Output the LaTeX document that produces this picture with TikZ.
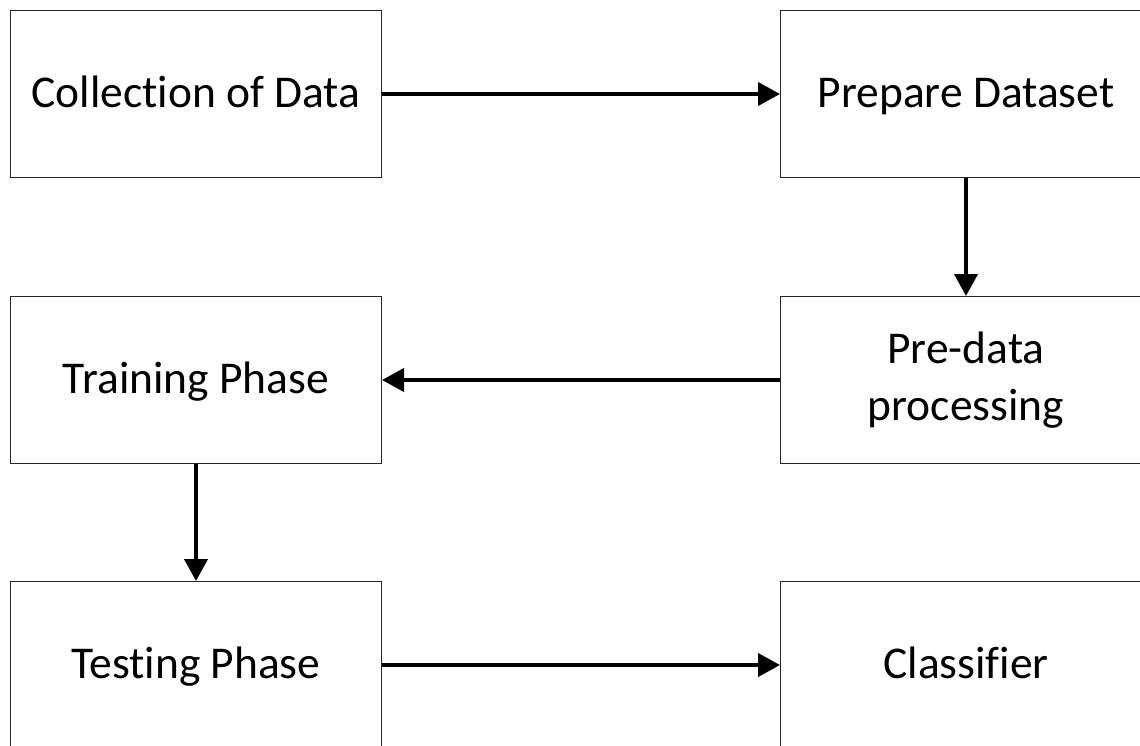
\documentclass[tikz,border=0pt]{standalone}
\usepackage{fontspec}
\setmainfont{Carlito}[Ligatures={NoCommon}]
\usetikzlibrary{arrows.meta}
\begin{document}
\begin{tikzpicture}[x=1pt,y=-1pt,
  stagebox/.style={draw=black!85, line width=1pt, minimum width=371pt,
    minimum height=167pt, inner sep=0pt, anchor=north west, align=center,
    text height=27pt, text depth=0pt,
    font=\fontsize{45.5pt}{57pt}\selectfont},
  flow/.style={line width=4pt, -{Triangle[length=22pt,width=23pt]}}]
  \useasboundingbox (0,0) rectangle (1140,745);
  \clip (0,0) rectangle (1140,745);
  % left column
  \node[stagebox] (collect) at (10,10) {Collection of Data};
  \node[stagebox] (train) at (10,296) {Training Phase};
  \node[stagebox] (test) at (10,581) {Testing Phase};
  % right column
  \node[stagebox] (prepare) at (780,10) {Prepare Dataset};
  \node[stagebox, text height=81pt] (preproc) at (780,296) {Pre-data\\processing};
  \node[stagebox] (classify) at (780,581) {Classifier};
  % flow of the pipeline
  \draw[flow] (collect.east) -- (prepare.west);
  \draw[flow] (prepare.south) -- (preproc.north);
  \draw[flow] (preproc.west) -- (train.east);
  \draw[flow] (train.south) -- (test.north);
  \draw[flow] (test.east) -- (classify.west);
\end{tikzpicture}
\end{document}
